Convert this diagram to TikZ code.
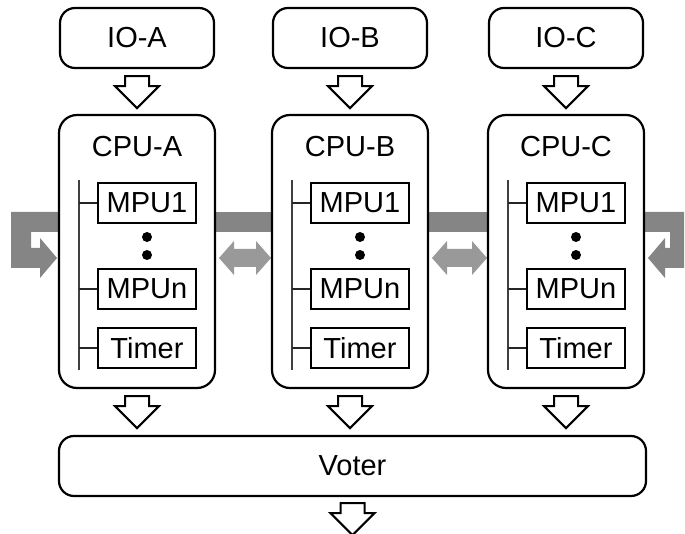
\documentclass[tikz,border=0pt]{standalone}
\usepackage{fontspec}
\setmainfont{Liberation Sans}
\usetikzlibrary{calc}
\begin{document}
\begin{tikzpicture}[x=1pt,y=-1pt,
  txt/.style={font=\fontsize{29}{32}\selectfont},
  rbox/.style={draw, line width=2.2pt, rounded corners=15pt, fill=white, inner sep=0pt, txt},
  ubox/.style={draw, line width=2.2pt, fill=white, minimum width=98pt, minimum height=40pt, inner sep=0pt, txt},
  bus/.style={draw=black!75, line width=2pt},
  branch/.style={draw=black!85, line width=1.4pt},
  hollow/.style={draw, line width=2pt, fill=white, line join=miter},
  ring/.style={fill=black!48, draw=none},
  link/.style={fill=black!40, draw=none}]
\useasboundingbox (0,0) rectangle (685,534);
\newcommand\harrow[1]{\draw[hollow] ($#1+(-12,0)$) -- ++(0,10) -- ++(-10,0) -- ++(22,22) -- ++(22,-22) -- ++(-10,0) -- ++(0,-10) -- cycle;}
\newcommand\dblarrow[2]{\fill[link] (#1,258) -- ++(15,-17) -- ++(0,8) -- (#2-15,249) -- ++(0,-8) -- (#2,258) -- ++(-15,17) -- ++(0,-8) -- (#1+15,267) -- ++(0,8) -- cycle;}
% ring bus band
\fill[ring] (60,212) rectangle (645,232);
\fill[ring] (60,212) -- (11,212) -- (11,268) -- (40,268) -- (40,278) -- (57,258) -- (40,238) -- (40,248) -- (31,248) -- (31,232) -- (60,232) -- cycle;
\fill[ring] (645,212) -- (684,212) -- (684,268) -- (665,268) -- (665,278) -- (648,258) -- (665,238) -- (665,248) -- (670,248) -- (670,232) -- (645,232) -- cycle;
\dblarrow{219}{271}
\dblarrow{432}{487}
% IO, CPU
\foreach \n/\c/\t in {a/137/A, b/350/B, c/566/C}{
  \node[rbox, minimum width=154pt, minimum height=60pt] (io\n) at (\c,38) {IO-\t};
  \node[rbox, rounded corners=18pt, minimum width=156pt, minimum height=273pt] (cpu\n) at (\c,251.5) {};
  \node[txt] (cpt\n) at (\c,147) {CPU-\t};
  \node[ubox] (mf\n) at (\c+10,203) {MPU1};
  \node[ubox] (mn\n) at (\c+10,289) {MPUn};
  \node[ubox] (tm\n) at (\c+10,348) {Timer};
  \fill (\c+10,237) circle (5);
  \fill (\c+10,255) circle (5);
  \coordinate (bt\n) at (\c-58,180);
  \coordinate (bb\n) at (\c-58,370);
  \draw[bus] (bt\n) -- (bb\n);
  \draw[branch] (mf\n.west) -- (mf\n.west -| bt\n);
  \draw[branch] (mn\n.west) -- (mn\n.west -| bt\n);
  \draw[branch] (tm\n.west) -- (tm\n.west -| bt\n);
  \harrow{(io\n.south)+(0,7)}
  \harrow{(cpu\n.south)+(0,7)}
}
\node[rbox, minimum width=587pt, minimum height=60pt] (voter) at (352.5,466) {Voter};
\harrow{(voter.south)+(0,6)}
\end{tikzpicture}
\end{document}
